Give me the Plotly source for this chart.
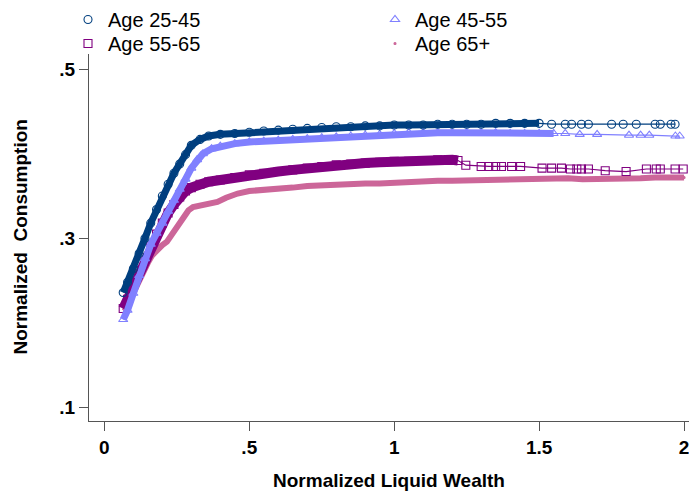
import plotly.graph_objects as go

# ---------------- data ----------------
# Age 25-45
x_2545 = [0.065, 0.08, 0.10, 0.12, 0.14, 0.16, 0.18, 0.20, 0.22, 0.24, 0.26, 0.28, 0.30, 0.33,
          0.36, 0.40, 0.45, 0.50, 0.55, 0.60, 0.65, 0.70, 0.75, 0.80, 0.85, 0.90, 0.95, 1.00,
          1.05, 1.10, 1.15, 1.20, 1.25, 1.30, 1.35, 1.40, 1.45, 1.50, 1.543, 1.59, 1.612,
          1.646, 1.67, 1.75, 1.79, 1.835, 1.90, 1.918, 1.955, 1.969]
y_2545 = [0.236, 0.248, 0.264, 0.282, 0.300, 0.318, 0.334, 0.350, 0.364, 0.377, 0.388, 0.399, 0.410, 0.417,
          0.421, 0.423, 0.424, 0.4255, 0.427, 0.428, 0.429, 0.430, 0.431, 0.432, 0.432, 0.433, 0.433, 0.434,
          0.434, 0.434, 0.435, 0.435, 0.435, 0.435, 0.436, 0.436, 0.436, 0.436, 0.435, 0.435, 0.435,
          0.435, 0.435, 0.435, 0.435, 0.435, 0.435, 0.435, 0.435, 0.435]

# Age 45-55
x_4555 = [0.065, 0.08, 0.10, 0.12, 0.14, 0.16, 0.18, 0.20, 0.22, 0.24, 0.26, 0.28, 0.30, 0.32,
          0.34, 0.37, 0.40, 0.45, 0.50, 0.55, 0.60, 0.65, 0.70, 0.75, 0.80, 0.85, 0.90, 0.95,
          1.00, 1.05, 1.10, 1.15, 1.20, 1.25, 1.30, 1.35, 1.40, 1.45, 1.50, 1.55, 1.59,
          1.64, 1.70, 1.81, 1.85, 1.88, 1.97, 1.985]
y_4555 = [0.204, 0.215, 0.235, 0.256, 0.276, 0.293, 0.306, 0.318, 0.332, 0.345, 0.358, 0.370, 0.383, 0.393,
          0.400, 0.406, 0.409, 0.412, 0.414, 0.415, 0.416, 0.417, 0.418, 0.419, 0.420, 0.421, 0.422, 0.423,
          0.424, 0.425, 0.425, 0.425, 0.425, 0.425, 0.425, 0.425, 0.424, 0.424, 0.424, 0.424, 0.424,
          0.423, 0.423, 0.422, 0.422, 0.422, 0.421, 0.421]

# Age 55-65
x_5565 = [0.065, 0.08, 0.10, 0.12, 0.14, 0.16, 0.18, 0.20, 0.22, 0.24, 0.26, 0.28, 0.30, 0.33,
          0.36, 0.40, 0.45, 0.50, 0.55, 0.60, 0.65, 0.70, 0.75, 0.80, 0.85, 0.90, 0.95, 1.00,
          1.05, 1.10, 1.15, 1.20, 1.22, 1.247, 1.30, 1.326, 1.35, 1.37, 1.405, 1.436, 1.51,
          1.543, 1.577, 1.608, 1.63, 1.646, 1.67, 1.728, 1.80, 1.87, 1.904, 1.918, 1.969, 1.997]
y_5565 = [0.217, 0.228, 0.245, 0.262, 0.277, 0.291, 0.305, 0.318, 0.330, 0.340, 0.349, 0.356, 0.360, 0.364,
          0.367, 0.369, 0.372, 0.375, 0.377, 0.379, 0.381, 0.383, 0.385, 0.387, 0.388, 0.389, 0.390, 0.391,
          0.391, 0.392, 0.393, 0.393, 0.392, 0.3865, 0.385, 0.385, 0.385, 0.385, 0.385, 0.385, 0.383,
          0.383, 0.383, 0.382, 0.382, 0.382, 0.382, 0.380, 0.379, 0.382, 0.382, 0.382, 0.382, 0.382]

# Age 65+
x_65p = [0.07, 0.09, 0.11, 0.13, 0.15, 0.165, 0.18, 0.20, 0.216, 0.23, 0.25, 0.27, 0.29, 0.306,
         0.33, 0.36, 0.39, 0.42, 0.46, 0.50, 0.55, 0.60, 0.65, 0.70, 0.75, 0.80, 0.85, 0.90,
         0.95, 1.00, 1.05, 1.10, 1.15, 1.20, 1.30, 1.40, 1.50, 1.55, 1.60, 1.65, 1.70, 1.75,
         1.80, 1.85, 1.90, 1.95, 2.00]
y_65p = [0.214, 0.229, 0.244, 0.258, 0.271, 0.280, 0.286, 0.292, 0.296, 0.303, 0.314, 0.325, 0.333, 0.337,
         0.339, 0.341, 0.343, 0.348, 0.353, 0.356, 0.357, 0.359, 0.360, 0.362, 0.363, 0.364, 0.364, 0.365,
         0.365, 0.366, 0.367, 0.367, 0.368, 0.368, 0.369, 0.370, 0.371, 0.372, 0.371, 0.370, 0.370, 0.371,
         0.371, 0.371, 0.372, 0.372, 0.372]

x_ticks = [0, 0.5, 1, 1.5, 2]
x_ticklabels = ["0", ".5", "1", "1.5", "2"]
y_ticks = [0.1, 0.3, 0.5]
y_ticklabels = [".1", ".3", ".5"]

# ---------------- styling ----------------
C_2545 = "#003f7f"
C_4555 = "#8080ff"
C_5565 = "#800080"
C_65P = "#cc6699"
FONT = "Liberation Sans, Arial, sans-serif"


def dense(xs, ys, xmax):
    pts = [(a, b) for a, b in zip(xs, ys) if a <= xmax]
    return [p[0] for p in pts], [p[1] for p in pts]


fig = go.Figure()


def add_series(xs, ys, name, color, symbol, msize, band_w, band_xmax, legend, thin=True):
    bx, by = dense(xs, ys, band_xmax)
    fig.add_trace(go.Scatter(x=bx, y=by, mode="lines", line=dict(color=color, width=band_w),
                             showlegend=False, hoverinfo="skip"))
    if thin:
        fig.add_trace(go.Scatter(x=xs, y=ys, mode="lines", line=dict(color=color, width=1.2),
                                 showlegend=False, hoverinfo="skip"))
    fig.add_trace(go.Scatter(x=xs, y=ys, mode="markers", name=name, legend=legend,
                             marker=dict(symbol=symbol, size=msize, color=color,
                                         line=dict(color=color, width=1.1))))


add_series(x_65p, y_65p, "Age 65+", C_65P, "circle", 2, 6, 2.1, "legend4", thin=False)
add_series(x_5565, y_5565, "Age 55-65", C_5565, "square-open", 8, 10, 1.22, "legend3")
add_series(x_4555, y_4555, "Age 45-55", C_4555, "triangle-up-open", 8, 7, 1.56, "legend2")
add_series(x_2545, y_2545, "Age 25-45", C_2545, "circle-open", 8, 7, 1.50, "legend")

axis_common = dict(showline=True, linecolor="#555555", linewidth=1.3, showgrid=False, zeroline=False,
                   ticks="outside", ticklen=9, tickwidth=1.3, tickcolor="#555555",
                   ticklabeloverflow="allow",
                   tickfont=dict(family=FONT, size=19, color="black", weight="bold"))


def leg(xpx, ypx):
    return dict(x=xpx / 689, y=1 - ypx / 494, xref="container", yref="container",
                xanchor="left", yanchor="top", orientation="v",
                font=dict(family=FONT, size=20, color="black"), bgcolor="rgba(0,0,0,0)")


fig.update_layout(
    width=689, height=494,
    margin=dict(l=89, r=0, t=54, b=73, autoexpand=False),
    paper_bgcolor="white", plot_bgcolor="white",
    font=dict(family=FONT, color="black"),
    xaxis=dict(range=[-0.053, 2.017], tickvals=x_ticks, ticktext=x_ticklabels,
               title=dict(text="Normalized Liquid Wealth", standoff=16,
                          font=dict(family=FONT, size=19, weight="bold", color="black")),
               **axis_common),
    yaxis=dict(range=[0.084, 0.518], tickvals=y_ticks, ticktext=y_ticklabels, **axis_common),
    legend=leg(68, 0),
    legend2=leg(375, 0),
    legend3=leg(68, 24),
    legend4=leg(375, 24),
    annotations=[dict(text="Normalized\u00a0 Consumption", textangle=-90, showarrow=False,
                      xref="paper", yref="paper", x=(20 - 89) / 600, y=0.5,
                      xanchor="center", yanchor="middle",
                      font=dict(family=FONT, size=19, weight="bold", color="black"))],
)

fig.write_html("out.html", config={"displayModeBar": False},
               post_script="document.body.style.margin='0px';")
